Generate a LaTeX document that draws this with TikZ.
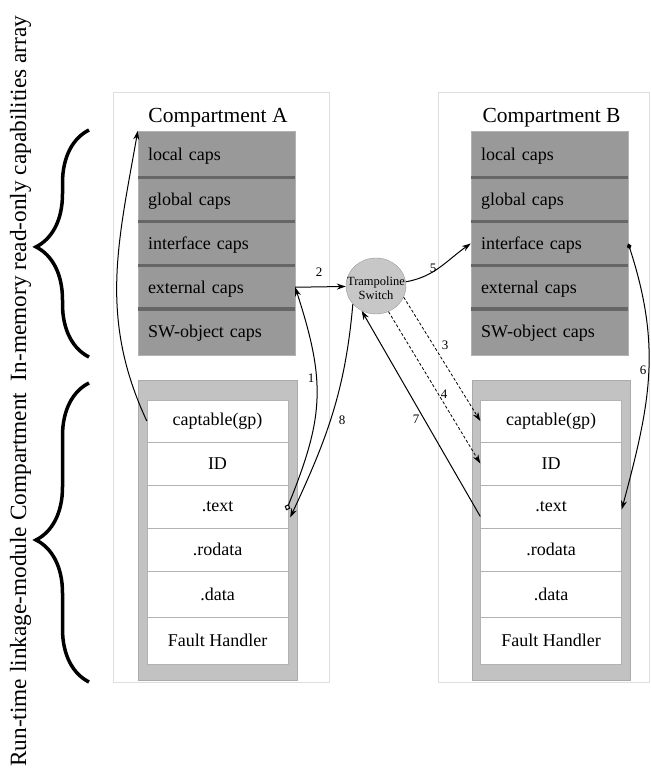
\documentclass[tikz,border=0pt]{standalone}
\usepackage{fontspec}
\setmainfont{Liberation Serif}
\usetikzlibrary{arrows.meta,shapes.geometric,decorations.pathreplacing}

\begin{document}
\begin{tikzpicture}[x=1pt,y=1pt,>={Stealth[length=9pt,width=6pt]},
   frame/.style={draw=black!13,fill=white,line width=0.8pt},
   caprow/.style={fill=black!40,draw=black!30,text width=137pt,inner xsep=10pt,inner ysep=0pt,text height=14pt,text depth=2pt,align=left,font=\rmfamily\fontsize{18}{20}\selectfont},
   capsep/.style={draw=black!60,line width=3.5pt},
   modbox/.style={fill=black!24,draw=black!33,line width=0.8pt},
   modrow/.style={draw=black!30,fill=white,minimum width=141pt,inner sep=0pt,font=\rmfamily\fontsize{18}{20}\selectfont},
   title/.style={font=\rmfamily\fontsize{21.5}{24}\selectfont},
   num/.style={font=\rmfamily\fontsize{13}{15}\selectfont,inner sep=1pt},
   flow/.style={line width=1pt},
   dashflow/.style={line width=0.8pt,dash pattern=on 3pt off 2pt},
   brc/.style={decorate,decoration={brace,amplitude=53pt,aspect=#1},line width=3.5pt}]
   \useasboundingbox (0,0) rectangle (651,769);

   % 左の文字と括弧
   \node[font=\rmfamily\fontsize{23.3}{26}\selectfont,rotate=90,anchor=base west,inner sep=0pt] (side) at (26,2)
      {Run-time linkage-module Compartment\ \ In-memory read-only capabilities array};
   \draw[brc=0.485] (89,412) -- (89,639);
   \draw[brc=0.475] (89,87) -- (89,386);

   % 枠
   \draw[frame] (113,87) rectangle (329,677);
   \draw[frame] (438,87) rectangle (649,677);
   \node[title,anchor=base] (titA) at (218,646) {Compartment A};
   \node[title,anchor=base] (titB) at (551.5,646) {Compartment B};

   % caps A
   \node[caprow,minimum height=46.5pt] (Aloc)  at (216.5,614.75) {local caps};
   \node[caprow,minimum height=44pt]   (Aglob) at (216.5,569.5)  {global caps};
   \node[caprow,minimum height=44pt]   (Aintf) at (216.5,525.5)  {interface caps};
   \node[caprow,minimum height=43.5pt] (Aext)  at (216.5,481.75) {external caps};
   \node[caprow,minimum height=46pt]   (Asw)   at (216.5,437)    {SW-object caps};
   \draw[capsep] (Aloc.south west) -- (Aloc.south east);
   \draw[capsep] (Aglob.south west) -- (Aglob.south east);
   \draw[capsep] (Aintf.south west) -- (Aintf.south east);
   \draw[capsep] (Aext.south west) -- (Aext.south east);

   % caps B
   \node[caprow,minimum height=46.5pt] (Bloc)  at (549.5,614.75) {local caps};
   \node[caprow,minimum height=44pt]   (Bglob) at (549.5,569.5)  {global caps};
   \node[caprow,minimum height=44pt]   (Bintf) at (549.5,525.5)  {interface caps};
   \node[caprow,minimum height=43.5pt] (Bext)  at (549.5,481.75) {external caps};
   \node[caprow,minimum height=46pt]   (Bsw)   at (549.5,437)    {SW-object caps};
   \draw[capsep] (Bloc.south west) -- (Bloc.south east);
   \draw[capsep] (Bglob.south west) -- (Bglob.south east);
   \draw[capsep] (Bintf.south west) -- (Bintf.south east);
   \draw[capsep] (Bext.south west) -- (Bext.south east);

   % module A
   \draw[modbox] (138,89) rectangle (297,389);
   \node[modrow,minimum height=42pt] (Acap)   at (217.5,348)   {captable(gp)};
   \node[modrow,minimum height=43pt] (Aid)    at (217.5,305.5) {ID};
   \node[modrow,minimum height=43pt] (Atext)  at (217.5,262.5) {.text};
   \node[modrow,minimum height=43pt] (Arod)   at (217.5,219.5) {.rodata};
   \node[modrow,minimum height=46pt] (Adata)  at (217.5,175)   {.data};
   \node[modrow,minimum height=47pt] (Afault) at (217.5,128.5) {Fault Handler};

   % module B
   \draw[modbox] (472,89) rectangle (630,389);
   \node[modrow,minimum height=42pt] (Bcap)   at (551,348)   {captable(gp)};
   \node[modrow,minimum height=43pt] (Bid)    at (551,305.5) {ID};
   \node[modrow,minimum height=43pt] (Btext)  at (551,262.5) {.text};
   \node[modrow,minimum height=43pt] (Brod)   at (551,219.5) {.rodata};
   \node[modrow,minimum height=46pt] (Bdata)  at (551,175)   {.data};
   \node[modrow,minimum height=47pt] (Bfault) at (551,128.5) {Fault Handler};

   % trampoline
   \node[ellipse,minimum width=60pt,minimum height=56pt,inner sep=0pt,fill=black!22,draw=black!40] (tramp) at (376,483) {};
   \node[align=center,inner sep=0pt,font=\rmfamily\fontsize{12.5}{14.5}\selectfont] (trampText) at (376,481) {Trampoline\\Switch};

   % 矢印
   \draw[flow,->] (Acap.west) to[out=115,in=-100] (Aloc.north west);
   \draw[flow,{Diamond[open,length=7pt,width=6pt]}->] ([xshift=-2pt,yshift=-4pt]Atext.east) to[out=68,in=-72,looseness=1.15] (Aext.east);
   \draw[flow,->] (Aext.east) -- (tramp);
   \draw[dashflow,->] (tramp.-22) -- (Bcap.west);
   \draw[dashflow,->] (tramp.-64) -- (Bid.west);
   \draw[flow,->] (tramp.8) to[out=10,in=-145] (Bintf.west);
   \draw[flow,{Diamond[length=6pt,width=5pt]}->] (Bintf.east) to[out=-72,in=75,looseness=1.05] ([yshift=-3pt]Btext.east);
   \draw[flow,->] ([yshift=-10pt]Btext.west) -- (tramp.240);
   \draw[flow,->] (tramp.218) to[out=-95,in=65] ([xshift=2pt,yshift=-11pt]Atext.east);

   % 番号
   \node[num] (n1) at (311,391) {1};
   \node[num] (n2) at (319,497) {2};
   \node[num] (n3) at (445,424) {3};
   \node[num] (n4) at (444,375) {4};
   \node[num] (n5) at (433,501) {5};
   \node[num] (n6) at (643,399) {6};
   \node[num] (n7) at (416,350) {7};
   \node[num] (n8) at (342,349) {8};
\end{tikzpicture}
\end{document}
